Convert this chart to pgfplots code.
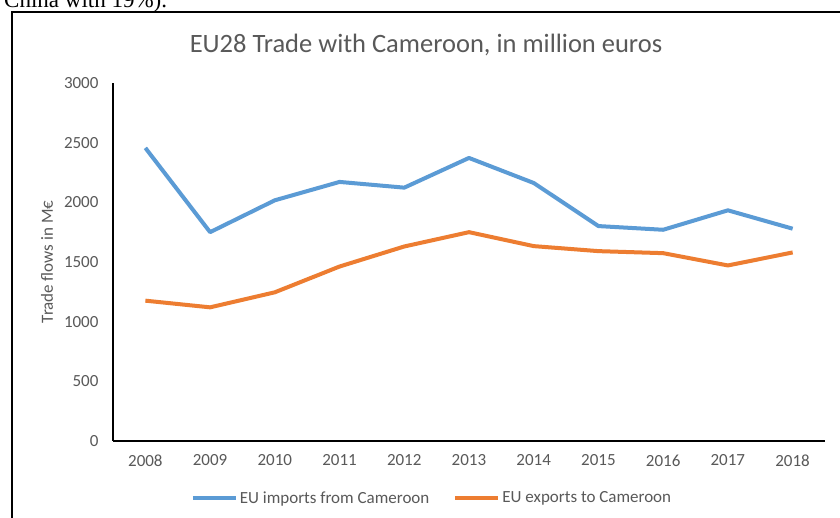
\documentclass[border=0pt]{standalone}
\usepackage{fontspec}
\setmainfont{Carlito}
\newfontfamily\seriffont{Liberation Serif}
\usepackage{pgfplots}
\pgfplotsset{compat=1.18}
\definecolor{impblue}{HTML}{5B9BD5}
\definecolor{exporange}{HTML}{ED7D31}
\definecolor{txtgray}{HTML}{595959}
\begin{document}
\begin{tikzpicture}
\clip (0pt,0pt) rectangle (840pt,518pt);
\fill[white] (0pt,0pt) rectangle (840pt,518pt);
% cut-off text from the surrounding page
\node[anchor=base west, inner sep=0pt, font=\seriffont\fontsize{23}{25}\selectfont] at (4pt,510pt) {China with 19\%).};
% frame
\draw[black, line width=2.2pt] (12pt,-10pt) -- (12pt,506pt) -- (850pt,506pt);
% title
\node[font=\fontsize{26.5}{30}\selectfont, text=txtgray] at (426pt,473pt) {EU28 Trade with Cameroon, in million euros};
% y label
\node[rotate=90, font=\fontsize{17}{20}\selectfont, text=txtgray] at (47pt,256pt) {Trade flows in M€};
\begin{axis}[
  at={(113pt,77pt)}, anchor=south west,
  scale only axis, width=712pt, height=358pt,
  xmin=2007.5, xmax=2018.5, ymin=0, ymax=3000,
  axis x line*=bottom, axis y line*=left,
  axis line style={black, line width=1.6pt, -},
  xtick={2008,...,2018}, ytick={0,500,...,3000},
  major tick length=0pt,
  xticklabel style={font=\fontsize{17}{20}\selectfont, text=txtgray, yshift=-10pt},
  yticklabel style={font=\fontsize{17}{20}\selectfont, text=txtgray, xshift=-11pt},
  legend style={at={(axis description cs:0.448,-0.159)}, anchor=center, draw=none, fill=none, legend columns=2,
    font=\fontsize{17}{20}\selectfont, text=txtgray, /tikz/every even column/.append style={column sep=22pt}},
  legend image code/.code={\draw[#1, line width=4pt] (0pt,0pt) -- (43pt,0pt);},
  clip=false,
  /pgf/number format/assume math mode=true,
  /pgf/number format/1000 sep={},
]
\addplot[impblue, line width=4pt, line join=round] coordinates {
(2008,2456) (2009,1750) (2010,2017) (2011,2171) (2012,2123) (2013,2372)
(2014,2162) (2015,1801) (2016,1770) (2017,1933) (2018,1779)};
\addlegendentry{EU imports from Cameroon}
\addplot[exporange, line width=4pt, line join=round] coordinates {
(2008,1176) (2009,1120) (2010,1246) (2011,1462) (2012,1630) (2013,1750)
(2014,1633) (2015,1591) (2016,1574) (2017,1471) (2018,1580)};
\addlegendentry{EU exports to Cameroon}
\end{axis}
\end{tikzpicture}
\end{document}
